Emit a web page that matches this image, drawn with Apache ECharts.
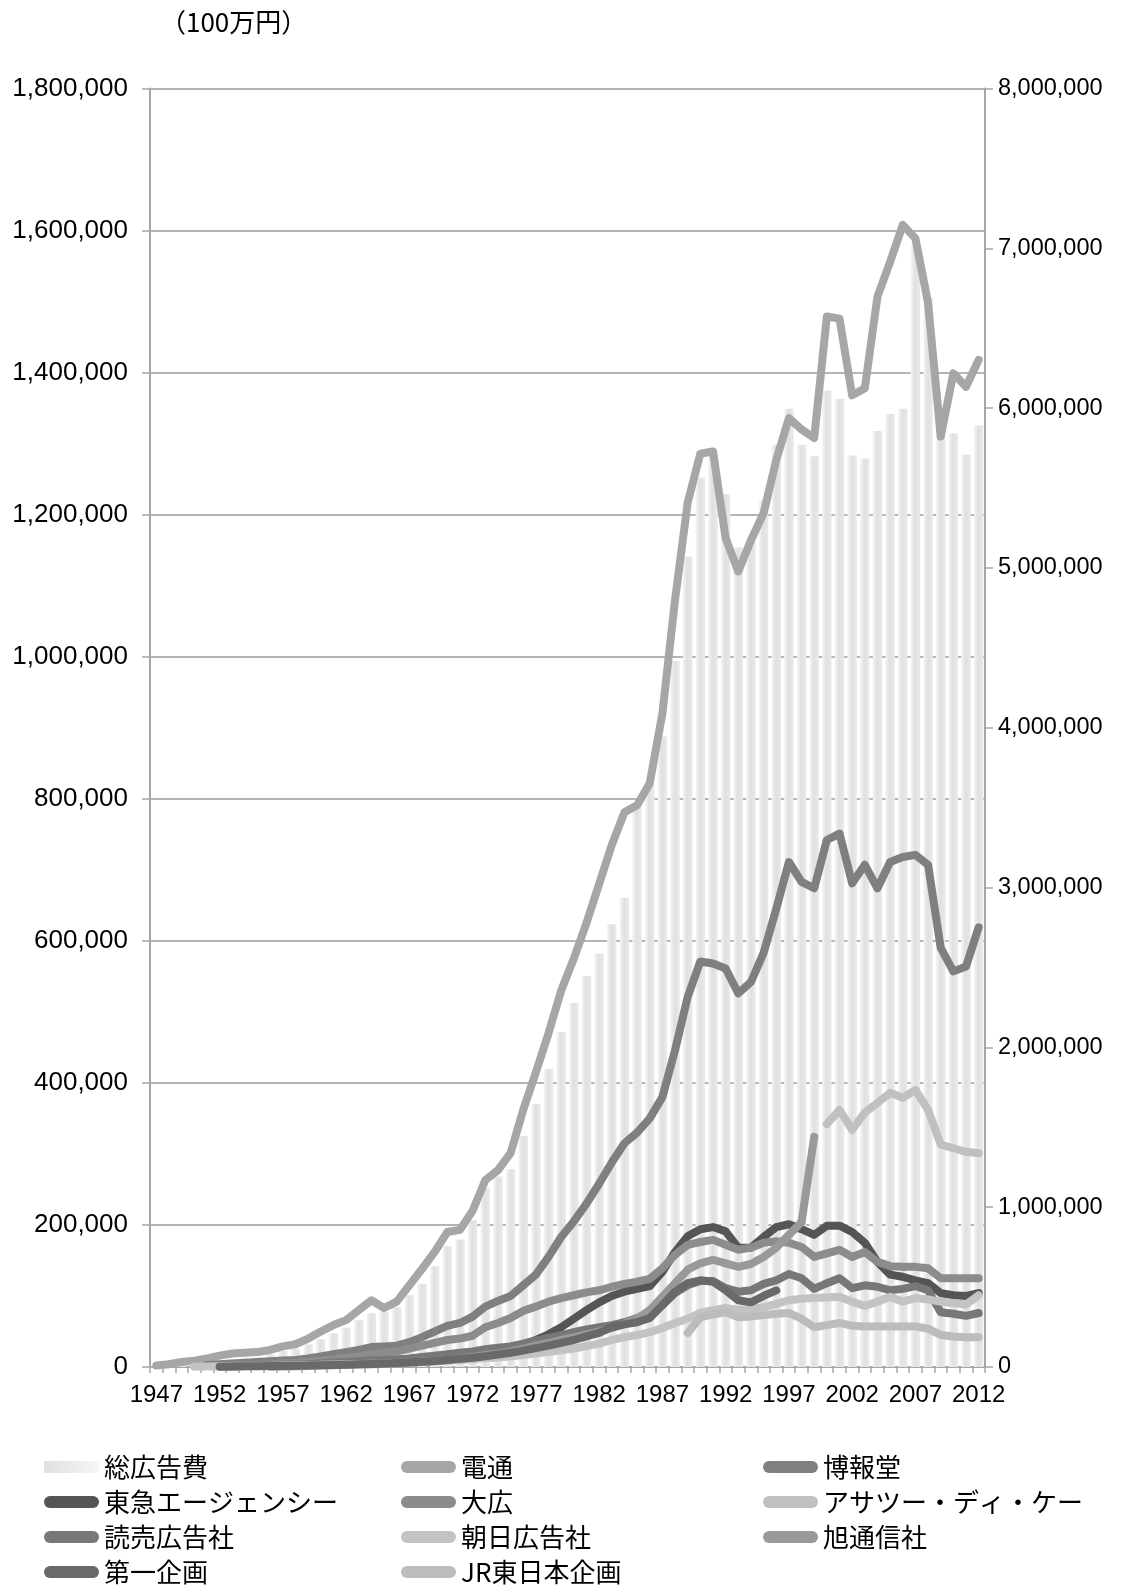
<!DOCTYPE html>
<html>
<head>
<meta charset="utf-8">
<script src="https://cdn.jsdelivr.net/npm/echarts@6/dist/echarts.min.js"></script>
<style>
html,body{margin:0;padding:0;background:#fff;}
#c{width:1139px;height:1589px;}
</style>
</head>
<body>
<div id="c"></div>
<script>
const years = ['1947','1948','1949','1950','1951','1952','1953','1954','1955','1956',
'1957','1958','1959','1960','1961','1962','1963','1964','1965','1966',
'1967','1968','1969','1970','1971','1972','1973','1974','1975','1976',
'1977','1978','1979','1980','1981','1982','1983','1984','1985','1986',
'1987','1988','1989','1990','1991','1992','1993','1994','1995','1996',
'1997','1998','1999','2000','2001','2002','2003','2004','2005','2006',
'2007','2008','2009','2010','2011','2012'];

const leftTicks = [0,200000,400000,600000,800000,1000000,1200000,1400000,1600000,1800000];
const rightTicks = [0,1000000,2000000,3000000,4000000,5000000,6000000,7000000,8000000];

// 総広告費 (right axis)
const totalAd = [1500,4000,9000,21500,33000,44000,50000,55000,60900,79000,
100000,113000,141000,174000,211000,246000,292000,336000,343500,374000,
450000,521000,630000,755800,798500,918100,1117900,1191700,1237500,1445400,
1647400,1865000,2096000,2278300,2446700,2588000,2771000,2935000,3504900,3647800,
3944800,4417500,5071500,5564800,5726100,5461100,5127300,5168200,5426300,5771500,
5996100,5771100,5699600,6110200,6058000,5703200,5684100,5857100,5962500,5995400,
7019100,6692600,5922200,5842700,5709600,5891300];

const dentsu = [2000,4000,7000,9000,12000,16000,19000,20000,21000,24000,
29000,32000,40000,50000,59000,66000,80000,94000,83000,92000,
115000,138000,162000,190000,193000,220000,263000,277000,301000,362000,
415000,470000,530000,575000,625000,680000,735000,781000,791000,822000,
920000,1080000,1217000,1286000,1289000,1167000,1120000,1164000,1202000,1277000,
1336000,1320000,1308000,1479000,1476000,1368000,1378000,1507000,1556000,1608000,
1589000,1498000,1310000,1399000,1380000,1418000];

const hakuhodo = [null,null,null,null,3000,4000,5000,6000,7000,8000,
9000,10000,12000,15000,18000,21000,24000,28000,29000,30000,
35000,42000,50000,58000,62000,71000,85000,93000,100000,115000,
130000,155000,183000,205000,230000,258000,288000,315000,330000,350000,
380000,446000,521000,571000,568000,561000,526000,542000,583000,645000,
711000,683000,674000,742000,751000,681000,707000,674000,711000,718000,
721000,707000,590000,557000,564000,619000];

const tokyu = [null,null,null,null,null,1000,1000,1500,2000,2000,
2500,3000,3000,3500,4000,4500,5000,5500,6000,6500,
7000,9000,12000,15000,17000,19000,23000,25000,27000,32000,
38000,46000,56000,68000,80000,91000,100000,106000,110000,114000,
134000,162000,184000,194000,197000,191000,168000,168000,183000,197000,
201000,194000,186000,199000,199000,190000,175000,148000,130000,127000,
122000,118000,104000,101000,100000,104000];

const daiko = [null,null,null,null,null,1500,2000,2500,3000,4000,
5000,6000,7500,9000,11000,13000,15000,18000,20000,22000,
26000,30000,34000,38000,40000,44000,56000,62000,69000,79000,
85000,92000,97000,101000,105000,108000,113000,117000,120000,124000,
139000,158000,172000,176000,179000,172000,165000,168000,175000,177000,
175000,169000,155000,160000,165000,155000,162000,148000,142000,141000,
141000,139000,125000,125000,125000,125000];

const adk = [null,null,null,null,null,null,null,null,null,null,
null,null,null,null,null,null,null,null,null,null,
null,null,null,null,null,null,null,null,null,null,
null,null,null,null,null,null,null,null,null,null,
null,null,null,null,null,null,null,null,null,null,
null,null,null,342000,362000,334000,358000,372000,386000,379000,
390000,362000,313000,308000,303000,301000];

const yomiuri = [null,null,null,null,null,1000,1200,1500,2000,2500,
3000,3500,4000,5000,6000,7000,8000,9000,10000,11000,
12000,14000,16000,18000,20000,22000,25000,27000,29000,33000,
37000,41000,45000,49000,53000,56000,59000,63000,69000,76000,
87000,104000,115000,121000,121000,111000,106000,108000,117000,122000,
131000,125000,110000,118000,125000,111000,115000,113000,108000,110000,
114000,108000,77000,75000,72000,76000];

const asahiKoukoku = [null,null,null,500,800,1000,1100,1200,1500,1800,
2000,2300,2600,3000,3400,3800,4200,4600,5000,5800,
6500,7300,8000,9000,10000,11000,12500,13500,15000,17000,
19000,21000,23500,26000,29500,33000,38000,42000,45000,49000,
55000,62000,68000,76000,80000,83000,80000,82000,84000,89000,
94000,96000,97000,98000,99000,92000,86000,92000,99000,92000,
97000,95000,92000,90000,88000,101000];

const asahiTsushin = [null,null,null,null,null,null,null,null,null,500,
800,1000,1500,2000,2500,3000,3500,4000,4500,5000,
6000,7000,8500,10000,12000,14000,17000,19000,22000,26000,
30000,34000,38000,42000,46000,50000,55000,61000,68000,80000,
99000,118000,137000,146000,151000,146000,141000,145000,155000,168000,
186000,204000,324000,null,null,null,null,null,null,null,
null,null,null,null,null,null];

const daiichi = [null,null,null,null,null,500,700,900,1100,1300,
1500,1800,2100,2500,2900,3300,3700,4200,5000,5800,
6600,7500,8500,10000,11500,13000,15000,17500,20000,23000,
26500,30000,34000,38000,43000,48000,56000,60000,63000,69000,
87000,106000,118000,122000,120000,108000,94000,91000,100000,108000,
null,null,null,null,null,null,null,null,null,null,
null,null,null,null,null,null];

const jrEast = [null,null,null,null,null,null,null,null,null,null,
null,null,null,null,null,null,null,null,null,null,
null,null,null,null,null,null,null,null,null,null,
null,null,null,null,null,null,null,null,null,null,
null,null,48000,70000,74000,77000,70000,71000,73000,75000,
76000,68000,56000,59000,62000,58000,57000,57000,57000,57000,
57000,54000,45000,43000,42000,42000];

const lineDefs = [
  ['電通', dentsu, '#a6a6a6'],
  ['博報堂', hakuhodo, '#7f7f7f'],
  ['東急エージェンシー', tokyu, '#555555'],
  ['大広', daiko, '#8c8c8c'],
  ['アサツー・ディ・ケー', adk, '#c0c0c0'],
  ['読売広告社', yomiuri, '#777777'],
  ['朝日広告社', asahiKoukoku, '#c3c3c3'],
  ['旭通信社', asahiTsushin, '#999999'],
  ['第一企画', daiichi, '#696969'],
  ['JR東日本企画', jrEast, '#bcbcbc']
];

const fmt = v => Number(v).toLocaleString('en-US');
const latin = "'Liberation Sans', Arial, sans-serif";
const cjk = "'Noto Sans CJK JP', 'Liberation Sans', sans-serif";
const pill = 'path://M6,0 L49,0 A6,6 0 0 1 49,12 L6,12 A6,6 0 0 1 6,0 Z';

const barGrad = new echarts.graphic.LinearGradient(0,0,1,0,[
  {offset:0,color:'#f5f5f5'},{offset:0.45,color:'#e0e0e0'},{offset:1,color:'#eaeaea'}]);

const series = [{
  name:'総広告費', type:'bar', yAxisIndex:1, data: totalAd,
  barWidth:'74%', itemStyle:{color:barGrad}, silent:true
}];
lineDefs.forEach(d => series.push({
  name:d[0], type:'line', yAxisIndex:0, data:d[1], symbol:'none', showSymbol:false,
  connectNulls:false, silent:true,
  itemStyle:{color:d[2]},
  lineStyle:{width:8, color:d[2], cap:'round', join:'round'}
}));

const legText = {fontSize:26, lineHeight:30, color:'#000', fontFamily:cjk};
const legBase = {orient:'vertical', top:1452, height:150, padding:0, itemGap:5, itemWidth:55, itemHeight:12,
  icon:pill, textStyle:legText, selectedMode:false};

const chart = echarts.init(document.getElementById('c'), null, {renderer:'canvas'});
chart.setOption({
  animation:false,
  backgroundColor:'#fff',
  graphic:[{type:'text', left:160, top:9,
    style:{text:'（100万円）', fontSize:26, fontFamily:cjk, fill:'#000'}}],
  grid:{left:150, right:154, top:88.5, bottom:222, containLabel:false},
  legend:[
    Object.assign({}, legBase, {left:44, data:[{name:'総広告費', icon:'rect', itemStyle:{color:new echarts.graphic.LinearGradient(0,0,1,0,[{offset:0,color:'#e0e0e0'},{offset:1,color:'#f6f6f6'}])}}, '東急エージェンシー', '読売広告社', '第一企画']}),
    Object.assign({}, legBase, {left:401, data:['電通','大広','朝日広告社','JR東日本企画']}),
    Object.assign({}, legBase, {left:763, data:['博報堂','アサツー・ディ・ケー','旭通信社']})
  ],
  xAxis:{type:'category', data:years, boundaryGap:true,
    axisLine:{show:true, lineStyle:{color:'#a6a6a6', width:2}},
    axisTick:{show:true, interval:0, length:6, lineStyle:{color:'#a6a6a6', width:1.5}},
    axisLabel:{interval:4, fontSize:24, color:'#000', fontFamily:latin, margin:16},
    splitLine:{show:false}},
  yAxis:[
    {type:'value', min:leftTicks[0], max:leftTicks[leftTicks.length-1], interval:leftTicks[1]-leftTicks[0], position:'left',
      axisLine:{show:true, lineStyle:{color:'#a6a6a6', width:2}},
      axisTick:{show:true, length:8, lineStyle:{color:'#a6a6a6', width:1.5}},
      axisLabel:{fontSize:26, color:'#000', fontFamily:latin, margin:22, formatter:fmt},
      splitLine:{show:true, lineStyle:{color:'#9c9c9c', width:1.5}}},
    {type:'value', min:rightTicks[0], max:rightTicks[rightTicks.length-1], interval:rightTicks[1]-rightTicks[0], position:'right',
      axisLine:{show:true, lineStyle:{color:'#a6a6a6', width:2}},
      axisTick:{show:true, length:8, lineStyle:{color:'#a6a6a6', width:1.5}},
      axisLabel:{fontSize:23.5, color:'#000', fontFamily:latin, margin:13, formatter:fmt},
      splitLine:{show:false}}
  ],
  series:series
});
</script>
</body>
</html>
